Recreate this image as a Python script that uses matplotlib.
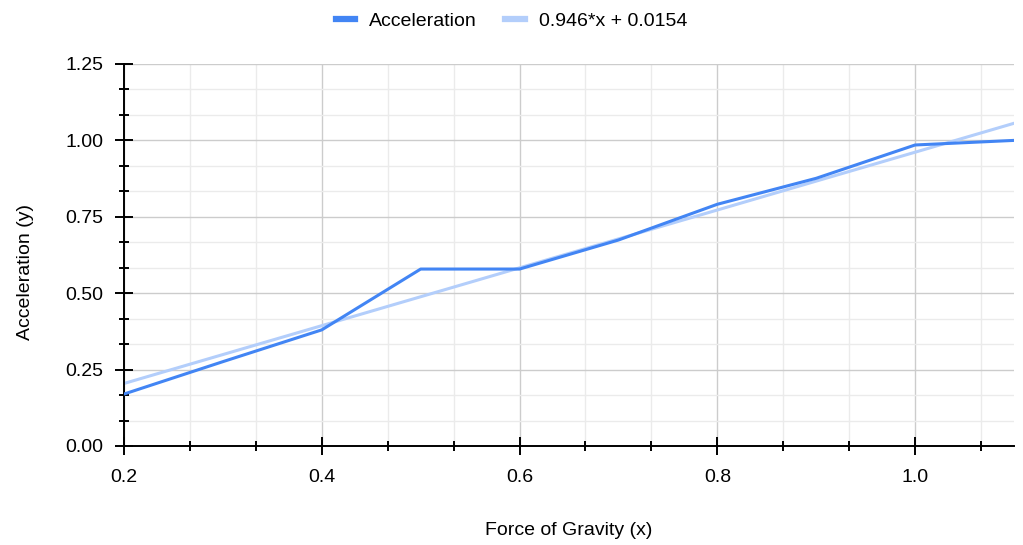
import matplotlib
matplotlib.use("Agg")
import matplotlib.pyplot as plt
import numpy as np
from matplotlib.ticker import FixedLocator, FuncFormatter

plt.rcParams['font.family'] = ['Liberation Sans', 'DejaVu Sans']

force = [0.2, 0.3, 0.4, 0.5, 0.6, 0.7, 0.8, 0.9, 1.0, 1.1]
accel = [0.17, 0.276, 0.38, 0.579, 0.579, 0.674, 0.791, 0.876, 0.985, 1.0]
slope = 0.946
intercept = 0.0154
trend_label = "0.946*x + 0.0154"

FS = 14

fig = plt.figure(figsize=(10.23, 5.45), dpi=100)
ax = fig.add_axes([124/1023, 99/545, (1014-124)/1023, (446-64)/545])

xs = np.array([force[0], force[-1]])
ax.plot(force, accel, color='#4285f4', lw=2.2, label='Acceleration', zorder=3)
ax.plot(xs, slope*xs + intercept, color='#b3cefb', lw=2.2, label=trend_label, zorder=2)

ax.set_xlim(0.2, 1.1)
ax.set_ylim(0, 1.25)

ax.xaxis.set_major_locator(FixedLocator([0.2, 0.4, 0.6, 0.8, 1.0]))
ax.xaxis.set_minor_locator(FixedLocator([0.2 + i*0.2/3 for i in range(14) if i % 3 != 0]))
ax.yaxis.set_major_locator(FixedLocator([0, 0.25, 0.5, 0.75, 1.0, 1.25]))
ax.yaxis.set_minor_locator(FixedLocator([j*0.25/3 for j in range(16) if j % 3 != 0]))
ax.xaxis.set_major_formatter(FuncFormatter(lambda v, p: f"{v:.1f}"))
ax.yaxis.set_major_formatter(FuncFormatter(lambda v, p: f"{v:.2f}"))

ax.grid(which='major', color='#cccccc', lw=1.0, zorder=0)
ax.grid(which='minor', color='#ebebeb', lw=1.0, zorder=0)
ax.set_axisbelow(True)

for s in ['top', 'right']:
    ax.spines[s].set_visible(False)
for s in ['left', 'bottom']:
    ax.spines[s].set_color('black')
    ax.spines[s].set_linewidth(1.4)

ax.tick_params(which='major', direction='inout', length=13.5, width=1.4, colors='black', labelsize=FS)
ax.tick_params(which='minor', direction='inout', length=7.2, width=1.4, colors='black')
ax.tick_params(axis='y', which='major', pad=8)
ax.tick_params(axis='x', which='major', pad=10)

ax.set_xlabel('Force of Gravity (x)', fontsize=FS, labelpad=26)
ax.set_ylabel('Acceleration (y)', fontsize=FS, labelpad=22.5)
ax.yaxis.label.set_y(0.455)

leg = fig.legend(loc='upper center', bbox_to_anchor=(0.5, 1.01), ncol=2, frameon=False,
                 fontsize=FS, handlelength=1.0, handletextpad=0.72, columnspacing=1.45)
for h in leg.get_lines():
    h.set_linewidth(4.5)

fig.savefig('out.png', dpi=100)
